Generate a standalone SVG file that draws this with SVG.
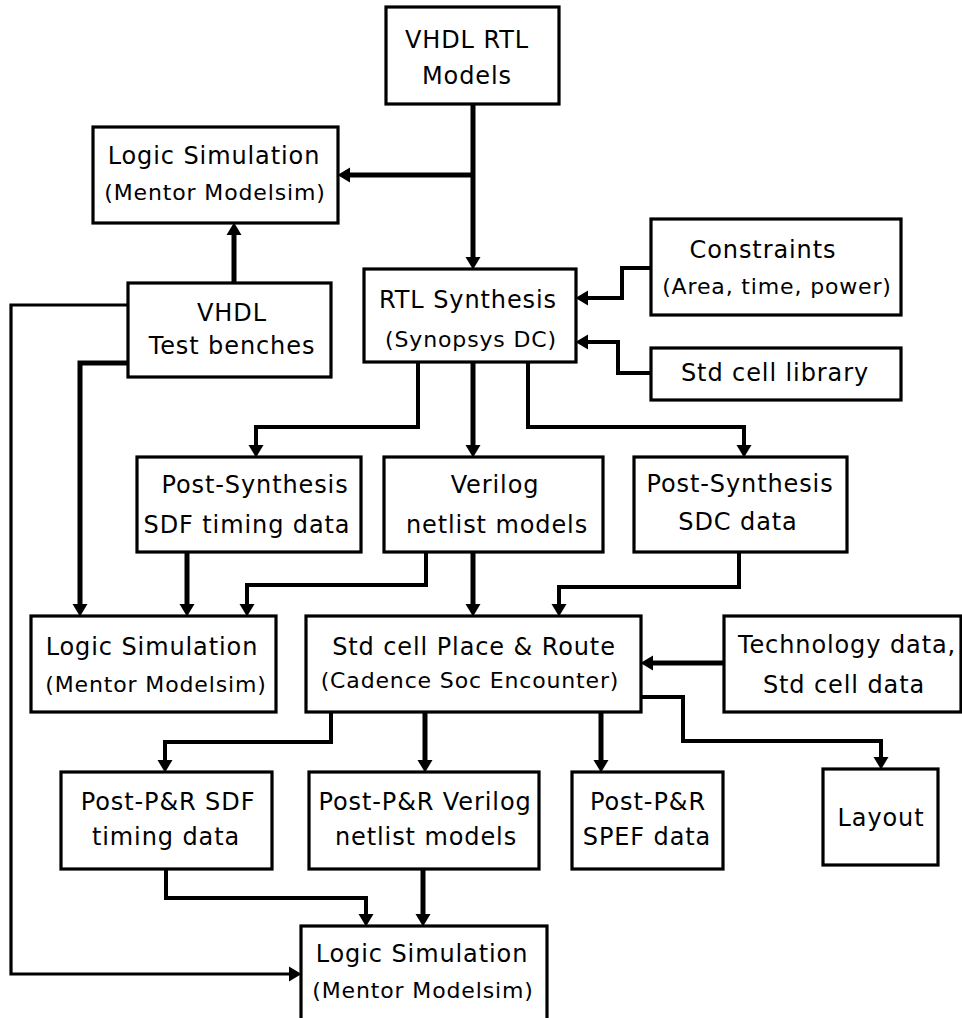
<svg xmlns="http://www.w3.org/2000/svg" width="962" height="1018" viewBox="0 0 962 1018">
<style>
.box{fill:#fff;stroke:#000;stroke-width:3.2}
text{font-family:"DejaVu Sans","Liberation Sans",sans-serif;fill:#000;text-anchor:middle}
.m{font-size:24px;letter-spacing:0.9px}
.s{font-size:22px;letter-spacing:0.85px}
.c{fill:none;stroke:#000;stroke-width:5;marker-end:url(#ah)}
.e{stroke-width:4}
.t{stroke-width:3.2}
</style>
<defs>
<marker id="ah" markerUnits="userSpaceOnUse" markerWidth="14" markerHeight="16" refX="0" refY="7.5" orient="auto" overflow="visible">
<path d="M0,0 L12.5,7.5 L0,15 z" fill="#000"/>
</marker>
</defs>
<rect width="962" height="1018" fill="#fff"/>
<g id="connectors">
<path class="c" d="M473,104 V257"/>
<path class="c" d="M473,175 H350"/>
<path class="c" d="M234,283 V235"/>
<path class="c t" d="M128,305 H11 V974 H289"/>
<path class="c" d="M128,363 H80 V604"/>
<path class="c e" d="M651,268 H622 V298 H588"/>
<path class="c e" d="M651,373 H618 V342 H588"/>
<path class="c e" d="M418,362 V427 H256 V445"/>
<path class="c" d="M473,362 V445"/>
<path class="c e" d="M528,362 V427 H744 V445"/>
<path class="c" d="M187,552 V604"/>
<path class="c e" d="M426,552 V585 H247 V604"/>
<path class="c" d="M473,552 V604"/>
<path class="c e" d="M739,552 V587 H559 V604"/>
<path class="c" d="M724,663 H653"/>
<path class="c e" d="M331,712 V742 H165 V760"/>
<path class="c" d="M425,712 V760"/>
<path class="c" d="M601,712 V760"/>
<path class="c e" d="M641,697 H683 V741 H881 V757"/>
<path class="c e" d="M166,869 V898 H366 V914"/>
<path class="c" d="M423,869 V914"/>
</g>
<g id="vhdl-rtl">
<rect class="box" x="386" y="7" width="173" height="97"/>
<text class="m" x="467" y="48">VHDL RTL</text>
<text class="m" x="467" y="84">Models</text>
</g>
<g id="logic-sim-1">
<rect class="box" x="93" y="127" width="245" height="96"/>
<text class="m" x="214" y="164">Logic Simulation</text>
<text class="s" x="215" y="200">(Mentor Modelsim)</text>
</g>
<g id="vhdl-tb">
<rect class="box" x="128" y="283" width="203" height="94"/>
<text class="m" x="232" y="321">VHDL</text>
<text class="m" x="232" y="354">Test benches</text>
</g>
<g id="rtl-synth">
<rect class="box" x="364" y="269" width="212" height="93"/>
<text class="m" x="468" y="308">RTL Synthesis</text>
<text class="s" x="471" y="347">(Synopsys DC)</text>
</g>
<g id="constraints">
<rect class="box" x="651" y="219" width="250" height="96"/>
<text class="m" x="763" y="258">Constraints</text>
<text class="s" x="777" y="294">(Area, time, power)</text>
</g>
<g id="std-lib">
<rect class="box" x="651" y="348" width="250" height="52"/>
<text class="m" x="775" y="381">Std cell library</text>
</g>
<g id="ps-sdf">
<rect class="box" x="137" y="457" width="224" height="95"/>
<text class="m" x="255" y="493">Post-Synthesis</text>
<text class="m" x="247" y="533">SDF timing data</text>
</g>
<g id="verilog">
<rect class="box" x="384" y="457" width="219" height="95"/>
<text class="m" x="495" y="493">Verilog</text>
<text class="m" x="497" y="533">netlist models</text>
</g>
<g id="ps-sdc">
<rect class="box" x="634" y="457" width="213" height="95"/>
<text class="m" x="740" y="492">Post-Synthesis</text>
<text class="m" x="738" y="530">SDC data</text>
</g>
<g id="logic-sim-2">
<rect class="box" x="31" y="616" width="245" height="96"/>
<text class="m" x="152" y="655">Logic Simulation</text>
<text class="s" x="156" y="692">(Mentor Modelsim)</text>
</g>
<g id="pnr">
<rect class="box" x="306" y="616" width="335" height="96"/>
<text class="m" x="474" y="655">Std cell Place &amp; Route</text>
<text class="s" x="470" y="688">(Cadence Soc Encounter)</text>
</g>
<g id="tech">
<rect class="box" x="724" y="616" width="237" height="96"/>
<text class="m" x="847" y="653">Technology data,</text>
<text class="m" x="844" y="693">Std cell data</text>
</g>
<g id="ppr-sdf">
<rect class="box" x="61" y="772" width="211" height="97"/>
<text class="m" x="168" y="810">Post-P&amp;R SDF</text>
<text class="m" x="166" y="845">timing data</text>
</g>
<g id="ppr-verilog">
<rect class="box" x="309" y="772" width="230" height="97"/>
<text class="m" x="425" y="810">Post-P&amp;R Verilog</text>
<text class="m" x="426" y="845">netlist models</text>
</g>
<g id="ppr-spef">
<rect class="box" x="572" y="772" width="151" height="97"/>
<text class="m" x="648" y="810">Post-P&amp;R</text>
<text class="m" x="647" y="845">SPEF data</text>
</g>
<g id="layout">
<rect class="box" x="823" y="769" width="115" height="96"/>
<text class="m" x="881" y="826">Layout</text>
</g>
<g id="logic-sim-3">
<rect class="box" x="301" y="926" width="246" height="100"/>
<text class="m" x="422" y="962">Logic Simulation</text>
<text class="s" x="423" y="998">(Mentor Modelsim)</text>
</g>
</svg>
